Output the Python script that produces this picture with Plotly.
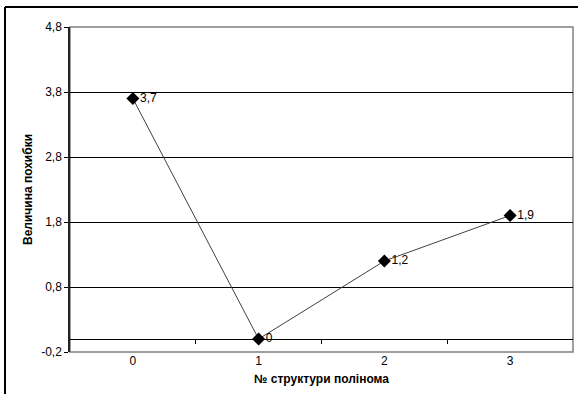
import plotly.graph_objects as go

# Polynomial structure numbers and the corresponding error magnitude
categories = ["0", "1", "2", "3"]
error_values = [3.7, 0.0, 1.2, 1.9]
value_labels = ["3,7", "0", "1,2", "1,9"]

# Y axis ticks
y_ticks = [-0.2, 0.8, 1.8, 2.8, 3.8, 4.8]
y_tick_labels = ["-0,2", "0,8", "1,8", "2,8", "3,8", "4,8"]

x_pos = list(range(len(categories)))
boundaries = [i + 0.5 for i in x_pos[:-1]]

font_main = "Liberation Sans, Arial, sans-serif"

# figure geometry: paper is the chart-area frame, plot area sits inside it
W, H = 578, 394
m_l, m_t = 5, 7
paper_w, paper_h = W - m_l, H - m_t
plot_left, plot_right, plot_top, plot_bottom = 70, 573, 27, 352
x_dom = [(plot_left - m_l) / paper_w, (plot_right - m_l) / paper_w]
y_dom = [(H - plot_bottom) / paper_h, (H - plot_top) / paper_h]

y_min, y_max = y_ticks[0], y_ticks[-1]
zero_pos = y_dom[0] + (0 - y_min) / (y_max - y_min) * (y_dom[1] - y_dom[0])

fig = go.Figure()
fig.add_trace(go.Scatter(
    x=x_pos,
    y=error_values,
    mode="lines+markers+text",
    line=dict(color="#404040", width=1),
    marker=dict(symbol="diamond", size=10, color="black"),
    text=value_labels,
    textposition="middle right",
    textfont=dict(family=font_main, size=12, color="black"),
    cliponaxis=False,
    showlegend=False,
))

fig.update_layout(
    width=W,
    height=H,
    margin=dict(l=m_l, r=0, t=m_t, b=0, autoexpand=False),
    paper_bgcolor="white",
    plot_bgcolor="white",
    font=dict(family=font_main, size=12, color="black"),
    xaxis=dict(
        domain=x_dom,
        range=[-0.5, len(categories) - 0.5],
        tickvals=x_pos,
        ticktext=categories,
        showgrid=False,
        zeroline=False,
        showline=False,
        ticks="",
        tickfont=dict(size=12),
        automargin=False,
        title=dict(text="<b>№ структури полінома</b>", font=dict(size=12), standoff=7),
    ),
    xaxis2=dict(
        overlaying="x",
        anchor="free",
        position=zero_pos,
        domain=x_dom,
        range=[-0.5, len(categories) - 0.5],
        tickvals=boundaries,
        showticklabels=False,
        ticks="outside",
        ticklen=4,
        tickcolor="black",
        showline=True,
        linecolor="black",
        linewidth=1,
        showgrid=False,
        zeroline=False,
    ),
    yaxis=dict(
        domain=y_dom,
        range=[y_min, y_max],
        tickvals=y_ticks,
        ticktext=y_tick_labels,
        showgrid=True,
        gridcolor="black",
        gridwidth=1,
        zeroline=False,
        showline=True,
        linecolor="#222222",
        linewidth=1.5,
        ticks="outside",
        ticklen=4,
        tickcolor="black",
        tickfont=dict(size=12),
        automargin=False,
        title=dict(text="<b>Величина похибки</b>", font=dict(size=12), standoff=6),
    ),
    shapes=[
        # plot area frame
        dict(type="rect", xref="paper", yref="paper",
             x0=x_dom[0], x1=x_dom[1], y0=y_dom[0], y1=y_dom[1],
             line=dict(color="#808080", width=1.5), layer="below"),
        # chart area frame: left and top edges
        dict(type="line", xref="paper", yref="paper", x0=0, x1=0, y0=-0.05, y1=1,
             line=dict(color="black", width=2), layer="above"),
        dict(type="line", xref="paper", yref="paper", x0=0, x1=1.05, y0=1, y1=1,
             line=dict(color="black", width=2), layer="above"),
    ],
)

# empty trace that activates the boundary-tick axis
fig.add_trace(go.Scatter(x=[None], y=[None], xaxis="x2", showlegend=False, hoverinfo="skip"))

fig.write_html("out.html")
